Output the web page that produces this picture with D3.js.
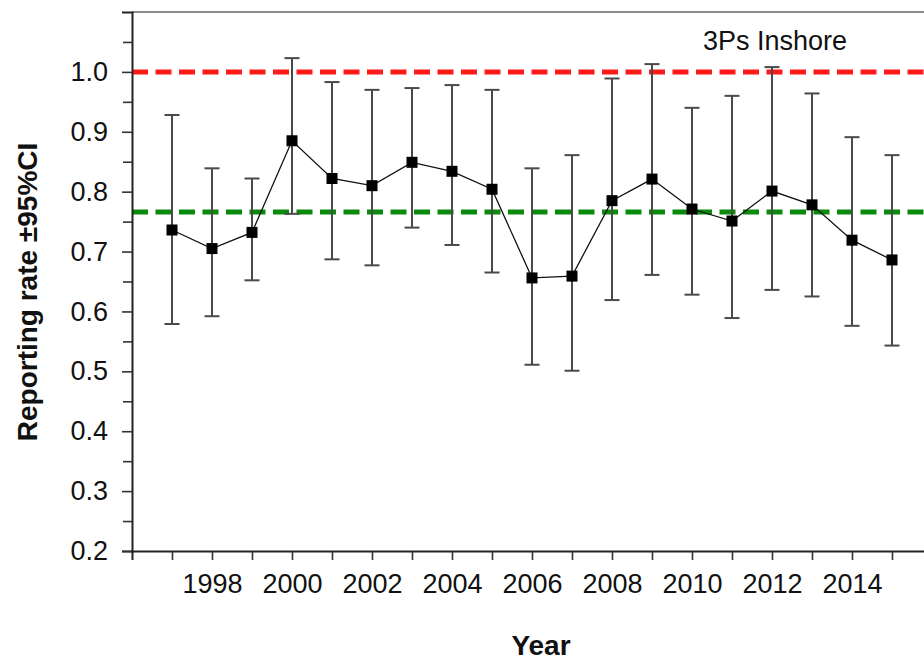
<!DOCTYPE html>
<html><head><meta charset="utf-8">
<script src="https://cdn.jsdelivr.net/npm/d3@7"></script>
<style>body{margin:0;background:#fff}svg{display:block}</style>
</head><body>
<script>
const years = [1997,1998,1999,2000,2001,2002,2003,2004,2005,2006,2007,2008,2009,2010,2011,2012,2013,2014,2015];
const rate  = [0.736,0.705,0.732,0.885,0.822,0.810,0.849,0.834,0.804,0.656,0.659,0.785,0.821,0.771,0.751,0.801,0.778,0.719,0.686];
const upper = [0.928,0.839,0.822,1.023,0.983,0.970,0.973,0.978,0.970,0.839,0.861,0.989,1.013,0.940,0.960,1.008,0.964,0.891,0.861];
const lower = [0.579,0.592,0.652,0.763,0.687,0.677,0.740,0.711,0.665,0.511,0.501,0.619,0.661,0.628,0.589,0.636,0.625,0.576,0.543];
const xLabelYears = [1998,2000,2002,2004,2006,2008,2010,2012,2014];
const yMajorTicks = [0.2,0.3,0.4,0.5,0.6,0.7,0.8,0.9,1.0];
const yMinorTicks = [0.25,0.35,0.45,0.55,0.65,0.75,0.85,0.95,1.05];
const refFull = 1.0;
const refMean = 0.766;
const panelLabel = "3Ps Inshore";

const W = 924, H = 662;
const svg = d3.select("body").append("svg").attr("width", W).attr("height", H);
const x = d3.scaleLinear().domain([1996, 2016]).range([132, 932]);
const y = d3.scaleLinear().domain([0.2, 1.1]).range([551, 12]);
const font = "'Liberation Sans', Arial, sans-serif";

// frame top & right
svg.append("line").attr("x1", x(1996)).attr("x2", x(2016)).attr("y1", y(1.1)).attr("y2", y(1.1))
  .attr("stroke", "#666").attr("stroke-width", 1.6);
svg.append("line").attr("x1", x(2016)).attr("x2", x(2016)).attr("y1", y(1.1)).attr("y2", y(0.2))
  .attr("stroke", "#666").attr("stroke-width", 1.6);

// reference lines
svg.append("line").attr("x1", x(1996)).attr("x2", x(2016)).attr("y1", y(refFull)).attr("y2", y(refFull))
  .attr("stroke", "#ff1a1a").attr("stroke-width", 5).attr("stroke-dasharray", "16 7.5");
svg.append("line").attr("x1", x(1996)).attr("x2", x(2016)).attr("y1", y(refMean)).attr("y2", y(refMean))
  .attr("stroke", "#0a8a0a").attr("stroke-width", 5).attr("stroke-dasharray", "16 7.5");

// error bars
const eb = svg.append("g").attr("stroke", "#4a4a4a").attr("stroke-width", 2);
years.forEach((yr, i) => {
  eb.append("line").attr("x1", x(yr)).attr("x2", x(yr)).attr("y1", y(lower[i])).attr("y2", y(upper[i]));
  eb.append("line").attr("x1", x(yr) - 7.5).attr("x2", x(yr) + 7.5).attr("y1", y(lower[i])).attr("y2", y(lower[i]));
  eb.append("line").attr("x1", x(yr) - 7.5).attr("x2", x(yr) + 7.5).attr("y1", y(upper[i])).attr("y2", y(upper[i]));
});

// connecting line
svg.append("path").datum(years.map((yr, i) => [yr, rate[i]]))
  .attr("fill", "none").attr("stroke", "#111").attr("stroke-width", 1.3)
  .attr("d", d3.line().x(d => x(d[0])).y(d => y(d[1])));

// markers
svg.append("g").selectAll("rect").data(years.map((yr, i) => [yr, rate[i]])).join("rect")
  .attr("x", d => x(d[0]) - 5.5).attr("y", d => y(d[1]) - 5.5)
  .attr("width", 11).attr("height", 11).attr("fill", "#000");

// y axis
svg.append("g").attr("transform", `translate(${x(1996)},0)`)
  .call(d3.axisLeft(y).tickValues(yMajorTicks).tickSize(10).tickPadding(14).tickFormat(d3.format(".1f")));
svg.append("g").attr("transform", `translate(${x(1996)},0)`)
  .call(d3.axisLeft(y).tickValues(yMinorTicks).tickSize(9).tickFormat(""))
  .call(g => g.select(".domain").remove());
// x axis
svg.append("g").attr("transform", `translate(0,${y(0.2)})`)
  .call(d3.axisBottom(x).tickValues(years.concat([2016])).tickSize(9).tickPadding(14)
    .tickFormat(d => xLabelYears.includes(d) ? String(d) : ""));

svg.selectAll(".domain").attr("stroke", "#222").attr("stroke-width", 2);
svg.selectAll(".tick line").attr("stroke", "#333").attr("stroke-width", 1.6);
svg.selectAll(".tick text").attr("font-family", font).attr("font-size", 27).attr("fill", "#111");

// titles
svg.append("text").attr("x", 541).attr("y", 655).attr("text-anchor", "middle")
  .attr("font-family", font).attr("font-weight", "bold").attr("font-size", 28).attr("fill", "#111")
  .text("Year");
svg.append("text").attr("transform", "translate(37,292) rotate(-90)").attr("text-anchor", "middle")
  .attr("font-family", font).attr("font-weight", "bold").attr("font-size", 28).attr("fill", "#111")
  .text("Reporting rate ±95%CI");
svg.append("text").attr("x", 775).attr("y", 50).attr("text-anchor", "middle")
  .attr("font-family", font).attr("font-size", 27).attr("fill", "#111")
  .text(panelLabel);
</script>
</body></html>
